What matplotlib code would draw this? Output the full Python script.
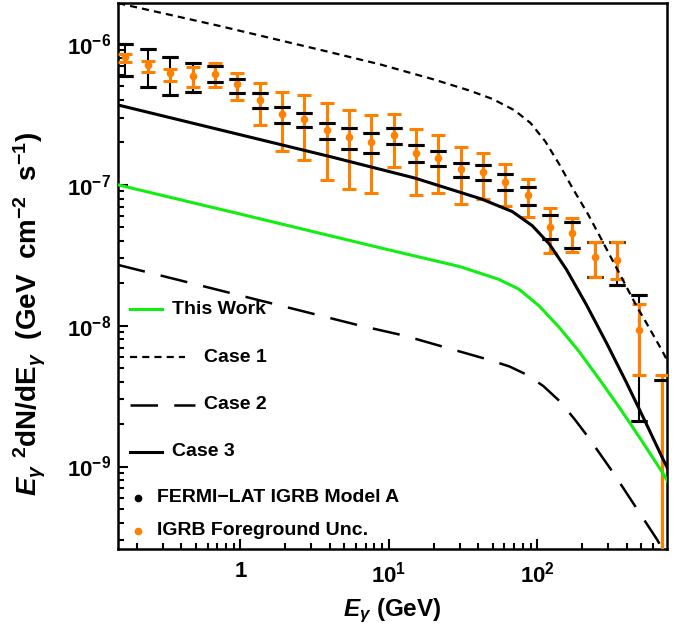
import numpy as np
import matplotlib
matplotlib.use('Agg')
import matplotlib.pyplot as plt
from matplotlib.ticker import LogLocator, FixedLocator, FixedFormatter, NullFormatter

plt.rcParams['font.family'] = ['Liberation Sans', 'DejaVu Sans']
plt.rcParams['font.weight'] = 'bold'
plt.rcParams['mathtext.fontset'] = 'custom'
plt.rcParams['mathtext.rm'] = 'Liberation Sans:bold'
plt.rcParams['mathtext.bf'] = 'Liberation Sans:bold'
plt.rcParams['mathtext.it'] = 'Liberation Sans:italic:bold'

# model curves (E in GeV, E^2 dN/dE in GeV cm^-2 s^-1)
this_work_e = [0.15, 1.0, 3.0, 8.77, 30, 54.6, 75, 103, 140, 190, 266, 362, 494, 705, 790]
this_work_f = [1.0e-7, 6.2e-8, 4.69e-8, 3.57e-8, 2.63e-8, 2.14e-8, 1.82e-8, 1.38e-8,
               9.77e-9, 6.61e-9, 4.07e-9, 2.57e-9, 1.58e-9, 8.9e-10, 7.2e-10]

case1_e = [0.15, 0.71, 3.74, 8.77, 19.9, 34.8, 50, 70, 90, 113, 140, 172, 220, 262,
           362, 471, 542, 695, 760]
case1_f = [1.95e-6, 1.35e-6, 8.91e-7, 7.16e-7, 5.62e-7, 4.68e-7, 4.07e-7, 3.39e-7, 2.75e-7,
           2.04e-7, 1.41e-7, 9.55e-8, 6.17e-8, 4.37e-8, 2.29e-8, 1.35e-8, 1.05e-8, 6.61e-9,
           5.5e-9]

case2_e = [0.15, 0.377, 6.43, 12.7, 24.4, 46.8, 65, 85.6, 110, 143, 180, 220, 324, 472,
           641, 760]
case2_f = [2.7e-8, 2.12e-8, 1.0e-8, 8.5e-9, 6.98e-9, 5.74e-9, 5.13e-9, 4.47e-9, 3.72e-9,
           2.88e-9, 2.14e-9, 1.62e-9, 9.06e-10, 4.95e-10, 3.03e-10, 2.2e-10]

case3_e = [0.15, 4.04, 14.85, 42.0, 67.9, 92.5, 120.5, 157, 214, 291.6, 397, 533, 705, 786]
case3_f = [3.69e-7, 1.585e-7, 1.12e-7, 7.94e-8, 6.46e-8, 5.13e-8, 3.80e-8, 2.51e-8, 1.41e-8,
           7.59e-9, 3.98e-9, 2.09e-9, 1.12e-9, 8.9e-10]

# IGRB data points
igrb_e = [0.168, 0.238, 0.336, 0.476, 0.673, 0.952, 1.346, 1.904, 2.69, 3.81, 5.39, 7.62,
          10.78, 15.2, 21.5, 30.5, 43.1, 60.9, 86.1, 121.8, 172.5, 243.8, 345, 488, 690]
igrb_f = [8.15e-7, 7.10e-7, 6.20e-7, 5.93e-7, 6.13e-7, 5.18e-7, 3.99e-7, 3.19e-7, 2.92e-7,
          2.45e-7, 2.18e-7, 2.01e-7, 2.26e-7, 1.69e-7, 1.56e-7, 1.29e-7, 1.24e-7, 1.055e-7,
          8.45e-8, 5.06e-8, 4.54e-8, 3.07e-8, 2.94e-8, 9.37e-9, 1.0e-10]
modelA_hi = [1.0e-6, 9.17e-7, 8.13e-7, 7.30e-7, 7.02e-7, 5.62e-7, 4.47e-7, 3.59e-7, 3.23e-7,
             2.77e-7, 2.52e-7, 2.33e-7, 2.55e-7, 1.92e-7, 1.75e-7, 1.44e-7, 1.38e-7, 1.19e-7,
             9.63e-8, 6.06e-8, 5.49e-8, 3.94e-8, 3.96e-8, 1.66e-8, 4.14e-9]
modelA_lo = [5.93e-7, 4.93e-7, 4.35e-7, 4.59e-7, 5.35e-7, 4.51e-7, 3.50e-7, 2.74e-7, 2.59e-7,
             2.11e-7, 1.80e-7, 1.69e-7, 1.96e-7, 1.46e-7, 1.36e-7, 1.13e-7, 1.085e-7, 9.21e-8,
             7.25e-8, 4.12e-8, 3.56e-8, 2.20e-8, 1.93e-8, 2.10e-9, 1e-11]
fg_hi = [8.49e-7, 7.61e-7, 6.62e-7, 6.90e-7, 7.30e-7, 6.26e-7, 5.31e-7, 4.59e-7, 4.37e-7,
         3.80e-7, 3.40e-7, 3.14e-7, 3.19e-7, 2.49e-7, 2.26e-7, 1.85e-7, 1.68e-7, 1.41e-7,
         1.10e-7, 6.90e-8, 5.80e-8, 3.94e-8, 3.90e-8, 1.43e-8, 4.44e-9]
fg_lo = [7.45e-7, 6.36e-7, 5.49e-7, 4.98e-7, 4.98e-7, 4.01e-7, 2.66e-7, 1.74e-7, 1.49e-7,
         1.085e-7, 9.32e-8, 8.73e-8, 1.33e-7, 8.49e-8, 8.73e-8, 7.30e-8, 7.92e-8, 7.10e-8,
         5.90e-8, 3.28e-8, 3.31e-8, 2.20e-8, 2.14e-8, 4.49e-9, 1e-11]

ORANGE = '#ff8000'
GREEN = '#11ee11'

fig = plt.figure(figsize=(6.95, 6.39), dpi=100)
ax = fig.add_axes([0.170, 0.141, 0.790, 0.854])

ax.plot(case1_e, case1_f, color='k', lw=1.6, ls=(0, (3.2, 2.3)), zorder=8)
ax.plot(case2_e, case2_f, color='k', lw=1.8, ls=(0, (11, 6.5)), zorder=8)
ax.plot(case3_e, case3_f, color='k', lw=2.2, zorder=8)
ax.plot(this_work_e, this_work_f, color=GREEN, lw=2.2, zorder=8)

f = np.array(igrb_f)
ax.errorbar(igrb_e, f, yerr=[f - np.array(modelA_lo), np.array(modelA_hi) - f],
            fmt='o', color='k', ms=3, elinewidth=1.5, capsize=5.5, capthick=2.2, zorder=4)
eb = ax.errorbar(igrb_e, f, yerr=[f - np.array(fg_lo), np.array(fg_hi) - f],
                 fmt='o', color=ORANGE, ms=4.5, elinewidth=2.2, capsize=5, capthick=2.2,
                 zorder=5)
for cl in eb[1]:
    cl.set_zorder(7)
# black caps sit on top of the orange bars
ax.plot(igrb_e, modelA_hi, ls='none', marker='_', color='k', ms=11, mew=2.2, zorder=6)
ax.plot(igrb_e, modelA_lo, ls='none', marker='_', color='k', ms=11, mew=2.2, zorder=6)

ax.set_xscale('log')
ax.set_yscale('log')
ax.set_xlim(0.15, 750)
ax.set_ylim(2.6e-10, 1.95e-6)

ax.xaxis.set_major_locator(FixedLocator([1, 10, 100]))
ax.xaxis.set_major_formatter(FixedFormatter(['1', r'$10^{1}$', r'$10^{2}$']))
ax.xaxis.set_minor_locator(LogLocator(base=10, subs=np.arange(2, 10), numticks=20))
ax.xaxis.set_minor_formatter(NullFormatter())
ax.yaxis.set_major_locator(FixedLocator([1e-9, 1e-8, 1e-7, 1e-6]))
ax.yaxis.set_major_formatter(FixedFormatter([r'$10^{-9}$', r'$10^{-8}$', r'$10^{-7}$', r'$10^{-6}$']))
ax.yaxis.set_minor_locator(LogLocator(base=10, subs=np.arange(2, 10), numticks=20))
ax.yaxis.set_minor_formatter(NullFormatter())

ax.tick_params(which='both', direction='in', top=False, right=False, width=1.5)
ax.tick_params(which='major', length=7, labelsize=16)
ax.tick_params(axis='x', which='major', pad=9)
ax.tick_params(axis='y', which='major', pad=5)
ax.tick_params(which='minor', length=4)
for s in ax.spines.values():
    s.set_linewidth(1.8)

ax.set_xlabel(r'$E_{\gamma}$ (GeV)', fontsize=17.5, fontweight='bold', labelpad=7)
ax.set_ylabel(r'$E_{\gamma}$ $^{2}$dN/dE$_{\gamma}$  (GeV  cm$^{-2}$  s$^{-1}$)',
              fontsize=20, fontweight='bold')
ax.yaxis.set_label_coords(-0.127, 0.43)

# legend
tr = ax.transAxes
lfs = 14
ax.plot([0.022, 0.080], [0.4396, 0.4396], color=GREEN, lw=2.2, transform=tr)
ax.text(0.098, 0.4396, 'This Work', transform=tr, fontsize=lfs, fontweight='bold', va='center')
ax.plot([0.022, 0.122], [0.3516, 0.3516], color='k', lw=1.6, ls=(0, (3.2, 2.3)), transform=tr)
ax.text(0.157, 0.3516, 'Case 1', transform=tr, fontsize=lfs, fontweight='bold', va='center')
ax.plot([0.022, 0.140], [0.2637, 0.2637], color='k', lw=1.8, ls=(0, (11, 6.5)), transform=tr)
ax.text(0.157, 0.2637, 'Case 2', transform=tr, fontsize=lfs, fontweight='bold', va='center')
ax.plot([0.022, 0.080], [0.1777, 0.1777], color='k', lw=2.2, transform=tr)
ax.text(0.098, 0.1777, 'Case 3', transform=tr, fontsize=lfs, fontweight='bold', va='center')
ax.plot([0.0364], [0.0934], 'o', color='k', ms=4.5, transform=tr)
ax.text(0.071, 0.0934, 'FERMI\u2212LAT IGRB Model A', transform=tr, fontsize=lfs,
        fontweight='bold', va='center')
ax.plot([0.0364], [0.033], 'o', color=ORANGE, ms=4.5, transform=tr)
ax.text(0.071, 0.033, 'IGRB Foreground Unc.', transform=tr, fontsize=lfs,
        fontweight='bold', va='center')

fig.savefig('out.png', dpi=100)
